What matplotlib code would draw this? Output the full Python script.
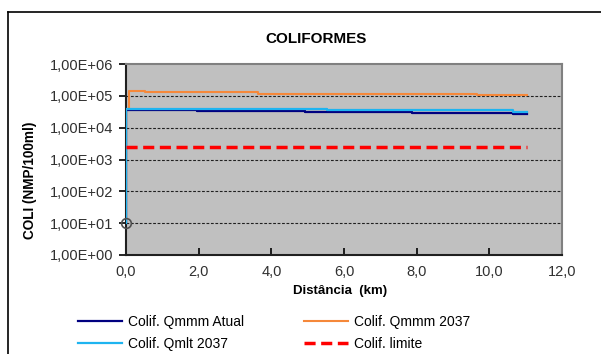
import matplotlib
matplotlib.use("Agg")
import matplotlib.pyplot as plt
from matplotlib.lines import Line2D
from matplotlib.ticker import FixedLocator, FixedFormatter, NullLocator

plt.rcParams['font.family'] = ['Liberation Sans', 'DejaVu Sans']

# Coliform concentration profiles along the river (NMP/100ml).
# Each value holds up to (and including) the distance listed with it, in km.
dist_atual = [0.0, 0.52, 1.95, 4.93, 7.87, 10.65, 11.05]
coli_atual = [10, 37000, 36500, 32300, 30900, 28800, 26000]

dist_qmmm = [0.09, 0.52, 3.63, 9.66, 11.05]
coli_qmmm = [46000, 143000, 130000, 118000, 105000]

dist_qmlt = [0.0, 0.52, 5.53, 10.65, 11.05]
coli_qmlt = [10, 40000, 38000, 34700, 31500]

dist_limite = [0.0, 11.05]
coli_limite = [2500, 2500]

series_labels = ["Colif. Qmmm Atual", "Colif. Qmmm 2037", "Colif. Qmlt 2037", "Colif. limite"]

xtick_values = [0, 2, 4, 6, 8, 10, 12]
xtick_labels = ["0,0", "2,0", "4,0", "6,0", "8,0", "10,0", "12,0"]
ytick_values = [1e0, 1e1, 1e2, 1e3, 1e4, 1e5, 1e6]
ytick_labels = ["1,00E+00", "1,00E+01", "1,00E+02", "1,00E+03",
                "1,00E+04", "1,00E+05", "1,00E+06"]

W, H = 601, 354
fig = plt.figure(figsize=(W / 100, H / 100), dpi=100)
ax = fig.add_axes([126 / W, 1 - 255 / H, (562 - 126) / W, (255 - 64) / H])
ax.set_facecolor('#C0C0C0')

ax.set_yscale('log')
ax.set_xlim(0, 12)
ax.set_ylim(1e0, 1e6)

# decade gridlines
for v in ytick_values[1:-1]:
    ax.axhline(v, color='#202020', lw=0.8, ls=(0, (2.5, 1.5)), zorder=1)

h_atual, = ax.plot(dist_atual, coli_atual, drawstyle='steps-pre', color='#000080', lw=1.6, zorder=3)
h_qmmm, = ax.plot(dist_qmmm, coli_qmmm, drawstyle='steps-pre', color='#F5883A', lw=1.5, zorder=3)
h_qmlt, = ax.plot(dist_qmlt, coli_qmlt, drawstyle='steps-pre', color='#1EB4F0', lw=1.6, zorder=4)
h_lim, = ax.plot(dist_limite, coli_limite, color='#FF0000', lw=2.5, ls=(0, (3.2, 1.6)), zorder=5)
ax.plot(dist_qmlt[0], coli_qmlt[0], marker='o', ms=7, mfc='none', mec='#505050',
        mew=1.2, clip_on=False, zorder=6)

ax.xaxis.set_major_locator(FixedLocator(xtick_values))
ax.xaxis.set_major_formatter(FixedFormatter(xtick_labels))
ax.yaxis.set_major_locator(FixedLocator(ytick_values))
ax.yaxis.set_major_formatter(FixedFormatter(ytick_labels))
ax.yaxis.set_minor_locator(NullLocator())
ax.xaxis.set_minor_locator(NullLocator())

ax.tick_params(axis='x', direction='in', length=5, width=1.2, pad=7,
               labelsize=10.5, labelcolor='#303030')
ax.tick_params(axis='y', direction='out', length=5, width=1.2, pad=4,
               labelsize=10.5, labelcolor='#303030')

for side in ('left', 'bottom'):
    ax.spines[side].set_color('#202020')
    ax.spines[side].set_linewidth(1.5)
for side in ('top', 'right'):
    ax.spines[side].set_color('#808080')
    ax.spines[side].set_linewidth(1.5)

fig.text(316 / W, 1 - 39 / H, "COLIFORMES", ha='center', va='center',
         fontsize=11, fontweight='bold')
fig.text(30 / W, 1 - 180 / H, "COLI (NMP/100ml)", ha='center', va='center',
         rotation=90, fontsize=9.8, fontweight='bold')
fig.text(340 / W, 1 - 291 / H, "Distância  (km)", ha='center', va='center',
         fontsize=9.5, fontweight='bold')

fig.legend([h_atual, h_qmlt, h_qmmm, h_lim],
           [series_labels[0], series_labels[2], series_labels[1], series_labels[3]],
           ncol=2, loc='upper left', bbox_to_anchor=(78 / W, 1 - 315 / H),
           frameon=False, borderpad=0, fontsize=10, handlelength=3.2,
           handletextpad=0.4, columnspacing=4.3, labelspacing=0.58,
           borderaxespad=0)

# outer chart frame
fig.add_artist(Line2D([8 / W, 8 / W], [0, 1 - 12 / H], color='black', lw=1.2))
fig.add_artist(Line2D([8 / W, 1], [1 - 12 / H, 1 - 12 / H], color='black', lw=1.2))

fig.savefig("out.png", dpi=100)
